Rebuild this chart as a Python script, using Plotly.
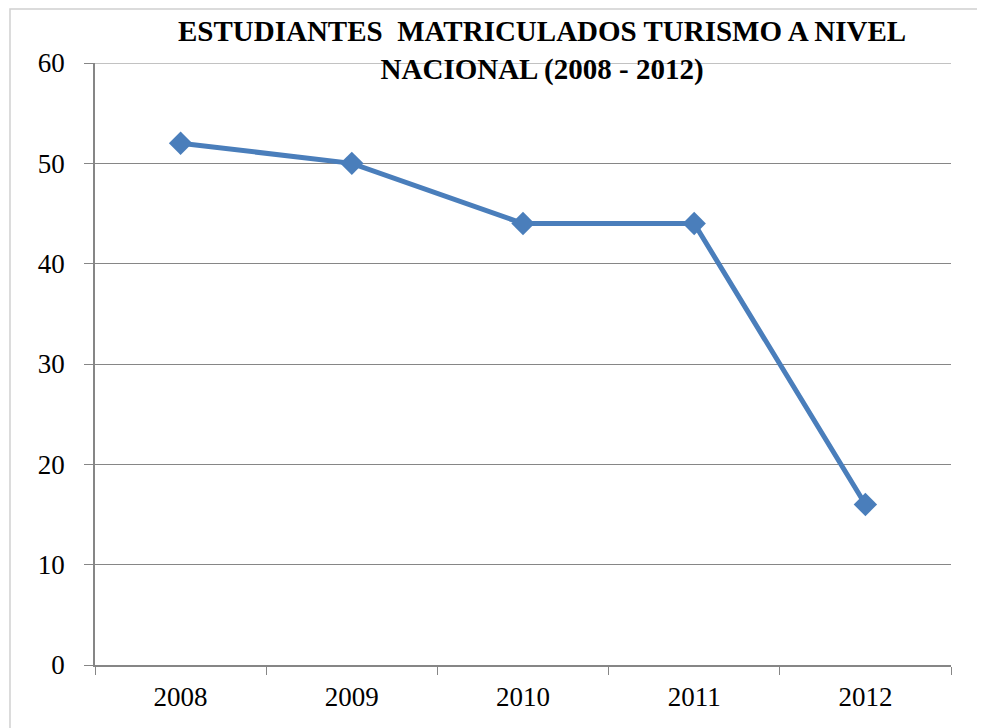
import plotly.graph_objects as go

anios = ['2008', '2009', '2010', '2011', '2012']
estudiantes = [52, 50, 44, 44, 16]
y_ticks = [0, 10, 20, 30, 40, 50, 60]

titulo = 'ESTUDIANTES  MATRICULADOS TURISMO A NIVEL<br>NACIONAL (2008 - 2012)'

fig = go.Figure()
fig.add_trace(go.Scatter(
    x=anios, y=estudiantes, mode='lines+markers',
    line=dict(color='#4A7EBB', width=5),
    marker=dict(symbol='diamond', size=18, color='#4A7EBB'),
    showlegend=False,
))

# la pagina tiene 8px de margen en el body
fig.update_layout(
    width=985, height=728,
    paper_bgcolor='white', plot_bgcolor='white',
    margin=dict(l=87, r=42, t=55, b=71),
    font=dict(family='Liberation Serif', size=27, color='black'),
)
# titulo como anotacion para controlar la posicion
fig.add_annotation(
    text='<b>' + titulo + '</b>', xref='paper', yref='paper',
    x=0.522, y=1.083, xanchor='center', yanchor='top', showarrow=False,
    font=dict(family='Liberation Serif', size=29, color='black'),
)
fig.update_xaxes(
    type='category', range=[-0.5, 4.5], tickson='boundaries',
    ticks='outside', ticklen=8, tickcolor='#868686',
    showline=True, linecolor='#868686', linewidth=1.5,
    showgrid=False, ticklabelstandoff=7,
)
fig.update_yaxes(
    range=[0, 60], tickvals=y_ticks, ticks='outside', ticklen=9,
    tickcolor='#868686', showline=True, linecolor='#868686', linewidth=1.5,
    showgrid=True, gridcolor='#868686', gridwidth=1.2, zeroline=False,
    ticklabelstandoff=14,
)
# linea de la cuadricula superior (plotly la omite en el borde)
fig.add_shape(type='line', xref='paper', yref='y', x0=0, x1=1,
              y0=y_ticks[-1], y1=y_ticks[-1],
              line=dict(color='#868686', width=1.2), layer='below')
fig.add_shape(type='rect', xref='paper', yref='paper',
              x0=-0.0993, x1=1.0374, y0=-0.13, y1=1.0897,
              line=dict(color='#D0D0D0', width=1.5), layer='below')

fig.write_html('out.html')
